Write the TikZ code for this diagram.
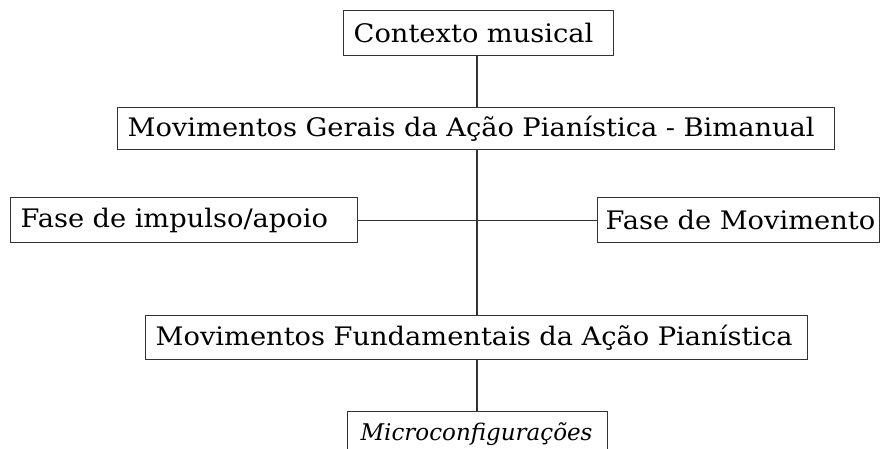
\documentclass[tikz,border=0pt]{standalone}
\usepackage{fontspec}
\setmainfont[FakeStretch=1.07]{DejaVu Serif}
\newfontfamily\micfont{DejaVu Serif}
\begin{document}
\begin{tikzpicture}[x=1pt,y=-1pt,
  box/.style={draw=black!80, line width=1.3pt, anchor=north west, inner ysep=0pt, inner xsep=10pt,
    align=left, font=\fontsize{25.5}{29}\selectfont},
  conn/.style={draw=black!80, line width=1.3pt}]
\useasboundingbox (0,0) rectangle (881,448);
\clip (0,0) rectangle (881,448);
\fill[white] (0,0) rectangle (881,448);
\node[box, text width=250pt, minimum height=45pt] (ctx) at (343,10) {\mbox{Contexto musical}};
\node[box, text width=697pt, minimum height=42pt] (ger) at (117,107) {\mbox{Movimentos Gerais da Ação Pianística - Bimanual}};
\node[box, text width=327pt, minimum height=45pt] (imp) at (10,197) {\mbox{Fase de impulso/apoio}};
\node[box, inner xsep=8pt, text width=266pt, minimum height=45pt] (mov) at (597,197) {\mbox{Fase de Movimento}};
\node[box, text width=642pt, minimum height=44pt] (fun) at (145,315) {\mbox{Movimentos Fundamentais da Ação Pianística}};
\node[box, inner xsep=13pt, text width=234pt, minimum height=45pt, font=\micfont\itshape\fontsize{23}{27}\selectfont] (mic) at (347,411) {\mbox{Microconfigurações}};
\coordinate (axis) at (477,0);
\draw[conn] (ctx.south -| axis) -- (ger.north -| axis);
\draw[conn] (ger.south -| axis) -- (fun.north -| axis);
\draw[conn] (imp.east) -- (mov.west);
\draw[conn] (fun.south -| axis) -- (mic.north -| axis);
\end{tikzpicture}
\end{document}
